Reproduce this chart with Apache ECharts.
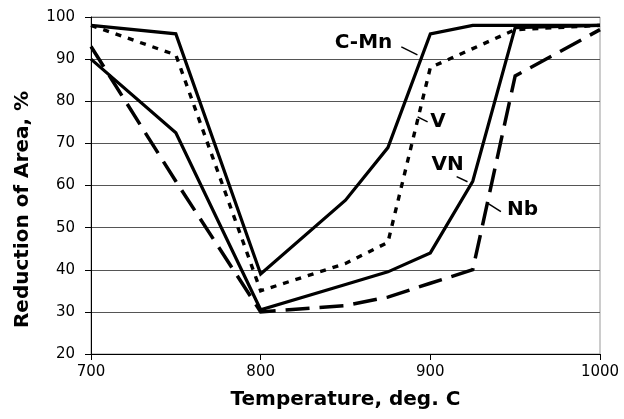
<!DOCTYPE html>
<html>
<head>
<meta charset="utf-8">
<script src="https://cdn.jsdelivr.net/npm/echarts@6/dist/echarts.min.js"></script>
<style>
  html, body { margin: 0; padding: 0; background: #fff; }
  #chart { width: 624px; height: 419px; }
</style>
</head>
<body>
<div id="chart"></div>
<script>
  // temperature, deg. C
  var temps = [700, 750, 800, 850, 875, 900, 925, 950, 1000];
  // reduction of area, %
  var cmn = [98, 96, 39, 56.5, 69, 96, 98, 98, 98];
  var v   = [98, 91, 35, 41.5, 46.5, 88, 92.5, 97, 98];
  var vn  = [90, 72.5, 30.5, 36.5, 39.5, 44, 61, 97.5, 98];
  var nb  = [93, 61, 30, 31.5, 33.5, 36.8, 40, 86, 97];

  var seriesNames = ['C-Mn', 'V', 'VN', 'Nb'];

  // label anchors in data units: text centre, leader start / end
  var labelAt    = [[860.6, 93.8], [904.5, 75.1], [910.2, 64.9], [954.3, 54.2]];
  var leaderFrom = [[882.9, 92.9], [892.5, 76.3], [915.5, 62.1], [933.7, 55.8]];
  var leaderTo   = [[892.4, 91.0], [898.4, 75.1], [921.9, 60.9], [941.6, 53.8]];

  function pairs(vals) {
    return temps.map(function (t, i) { return [t, vals[i]]; });
  }

  var chart = echarts.init(document.getElementById('chart'));
  var font = 'DejaVu Sans';

  function lineSeries(name, vals, type, width) {
    return {
      name: name,
      type: 'line',
      data: pairs(vals),
      showSymbol: false,
      symbol: 'none',
      lineStyle: { color: '#000', width: width, type: type, cap: 'butt', join: 'miter' },
      z: 3
    };
  }

  chart.setOption({
    animation: false,
    backgroundColor: '#fff',
    grid: {
      left: 91, right: 24, top: 17, bottom: 65,
      show: true, borderColor: '#999', borderWidth: 1
    },
    xAxis: {
      type: 'value',
      min: 700, max: 1000, interval: 100,
      name: 'Temperature, deg. C',
      nameLocation: 'middle',
      nameGap: 36,
      nameTextStyle: { fontFamily: font, fontWeight: 'bold', fontSize: 20, color: '#000' },
      axisLine: { show: true, lineStyle: { color: '#000', width: 1 } },
      axisTick: { show: true, inside: false, length: 6, lineStyle: { color: '#000' } },
      axisLabel: {
        fontFamily: font, fontSize: 15, color: '#000', margin: 11,
        formatter: function (val) { return String(val); }
      },
      splitLine: { show: false }
    },
    yAxis: {
      type: 'value',
      min: 20, max: 100, interval: 10,
      name: 'Reduction of Area, %',
      nameLocation: 'middle',
      nameGap: 58,
      nameTextStyle: { fontFamily: font, fontWeight: 'bold', fontSize: 20, color: '#000', padding: [0, 48, 0, 0] },
      axisLine: { show: true, lineStyle: { color: '#000', width: 1 } },
      axisTick: { show: true, inside: false, length: 6, lineStyle: { color: '#000' } },
      axisLabel: { fontFamily: font, fontSize: 15, color: '#000', margin: 16 },
      splitLine: { show: true, lineStyle: { color: '#555', width: 1 } }
    },
    series: [
      lineSeries('Nb', nb, [24, 10], 3.5),
      lineSeries('VN', vn, 'solid', 3.2),
      lineSeries('V', v, [6, 7], 3.4),
      lineSeries('C-Mn', cmn, 'solid', 3.2)
    ]
  });

  // series name labels with short leader lines
  var graphics = [];
  seriesNames.forEach(function (name, i) {
    var c = chart.convertToPixel({ gridIndex: 0 }, labelAt[i]);
    var a = chart.convertToPixel({ gridIndex: 0 }, leaderFrom[i]);
    var b = chart.convertToPixel({ gridIndex: 0 }, leaderTo[i]);
    graphics.push({
      type: 'line',
      shape: { x1: a[0], y1: a[1], x2: b[0], y2: b[1] },
      style: { stroke: '#000', lineWidth: 1.5 },
      z: 10
    });
    graphics.push({
      type: 'text',
      x: c[0], y: c[1],
      style: {
        text: name, fill: '#000',
        font: 'bold 20px "' + font + '"',
        align: 'center', verticalAlign: 'middle'
      },
      z: 10
    });
  });
  chart.setOption({ graphic: graphics });
</script>
</body>
</html>
